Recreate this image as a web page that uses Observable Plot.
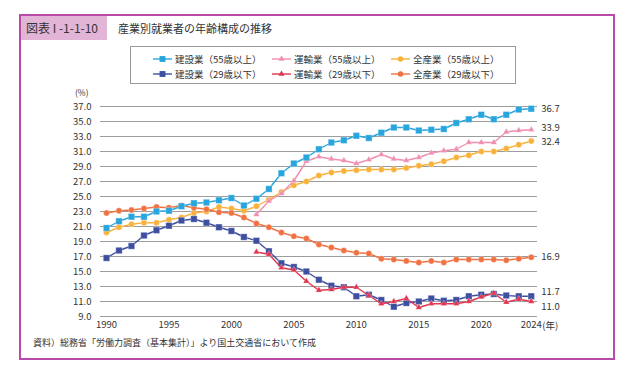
<!DOCTYPE html>
<html><head><meta charset="utf-8">
<script src="https://cdn.jsdelivr.net/npm/d3@7"></script>
<script src="https://cdn.jsdelivr.net/npm/@observablehq/plot@0.6"></script>
<style>
body{margin:0;background:#fff;font-family:"Noto Sans CJK JP","Noto Sans",sans-serif;color:#333;}
#wrap{position:relative;width:640px;height:378px;overflow:hidden;}
#frame{position:absolute;left:19px;top:14px;width:592px;height:342px;border:2px solid #b94aaa;}
#tag{position:absolute;left:21px;top:16px;width:86px;height:24px;background:#e2b4d6;font-size:12px;line-height:24px;padding-left:5px;box-sizing:border-box;}
#title{position:absolute;left:118px;top:16px;height:24px;line-height:24px;font-size:11px;}
#legend{position:absolute;left:130px;top:46px;width:386px;height:38px;border:1px solid #999;box-sizing:border-box;background:#fff;}
.li{position:absolute;font-size:9.5px;line-height:12px;white-space:nowrap;display:flex;align-items:center;}
.li svg{margin-right:3px;}
#pct{position:absolute;left:75px;top:87px;font-size:8.5px;line-height:10px;}
#cap{position:absolute;left:33px;top:337px;font-size:9px;line-height:12px;}
#chart{position:absolute;left:0;top:0;}
</style></head>
<body>
<div id="wrap">
  <div id="frame"></div>
  <div id="tag">図表 I -1-1-10</div>
  <div id="title">産業別就業者の年齢構成の推移</div>
  <div id="chart"></div>
  <div id="legend"></div>
  <div id="pct">(%)</div>
  <div id="cap">資料）総務省「労働力調査（基本集計）」より国土交通省において作成</div>
</div>
<script>
// ---- data ----
const yearsFull = [1990,1991,1992,1993,1994,1995,1996,1997,1998,1999,2000,2001,2002,2003,2004,2005,2006,2007,2008,2009,2010,2011,2012,2013,2014,2015,2016,2017,2018,2019,2020,2021,2022,2023,2024];
const yearsTransport = [2002,2003,2004,2005,2006,2007,2008,2009,2010,2011,2012,2013,2014,2015,2016,2017,2018,2019,2020,2021,2022,2023,2024];

const construction55 = [20.8,21.7,22.3,22.3,23.0,23.1,23.7,24.1,24.2,24.5,24.8,23.8,24.7,26.0,28.1,29.4,30.2,31.3,32.2,32.5,33.1,32.8,33.5,34.2,34.2,33.8,33.9,34.0,34.8,35.3,35.9,35.3,35.9,36.6,36.7];
const construction29 = [16.8,17.8,18.4,19.8,20.5,21.1,21.8,22.0,21.5,20.9,20.4,19.6,19.1,17.7,16.1,15.6,15.0,13.9,13.1,12.9,11.7,11.9,11.2,10.3,10.8,11.0,11.4,11.1,11.2,11.7,11.9,12.0,11.8,11.7,11.7];
const transport55 = [22.6,24.4,25.4,27.1,29.7,30.3,30.0,29.8,29.4,29.9,30.6,30.0,29.8,30.2,30.8,31.1,31.3,32.2,32.2,32.2,33.6,33.8,33.9];
const transport29 = [17.6,17.3,15.5,15.2,13.7,12.5,12.6,12.9,12.9,11.8,10.7,11.0,11.4,10.2,10.7,10.7,10.7,11.0,11.6,12.1,10.9,11.3,11.0];
const allIndustry55 = [20.2,20.9,21.3,21.5,21.5,21.9,22.2,22.8,23.0,23.6,23.4,23.1,23.7,24.6,25.6,26.5,27.0,27.8,28.2,28.4,28.5,28.6,28.6,28.6,28.8,29.1,29.3,29.7,30.2,30.5,31.0,31.0,31.4,31.9,32.4];
const allIndustry29 = [22.8,23.1,23.2,23.4,23.6,23.5,23.8,23.5,23.3,22.9,22.8,22.2,21.4,20.9,20.2,19.7,19.4,18.6,18.2,17.8,17.5,17.4,16.7,16.6,16.4,16.2,16.4,16.2,16.6,16.6,16.6,16.6,16.5,16.7,16.9];

const seriesNames = ["建設業（55歳以上）","運輸業（55歳以上）","全産業（55歳以上）","建設業（29歳以下）","運輸業（29歳以下）","全産業（29歳以下）"];
const endLabels = ["36.7","33.9","32.4","11.7","11.0","16.9"];
const yTicks = [9,11,13,15,17,19,21,23,25,27,29,31,33,35,37];
const xTicks = [1990,1995,2000,2005,2010,2015,2020,2024];

// ---- styles ----
const styles = [
  {color:"#29a5de", symbol:"square",   r:3.6},
  {color:"#f08db1", symbol:"triangle", r:2.4},
  {color:"#f8b23c", symbol:"circle",   r:3.0},
  {color:"#3e4fa0", symbol:"square",   r:3.6},
  {color:"#e0344f", symbol:"triangle", r:2.4},
  {color:"#f07141", symbol:"circle",   r:3.0}
];
const labelDy = [0,-2,1,-4,5,0];

const seriesData = [
  [yearsFull, construction55],
  [yearsTransport, transport55],
  [yearsFull, allIndustry55],
  [yearsFull, construction29],
  [yearsTransport, transport29],
  [yearsFull, allIndustry29]
];

const rows = seriesData.map(([ys, vs], i) => ys.map((y, j) => ({year: y, value: vs[j], s: i})));

const drawOrder = [2,5,1,0,3,4];
const marks = [
  Plot.ruleY(yTicks, {stroke:"#9d9d9d", strokeWidth:1}),
  Plot.axisY({ticks:yTicks, tickSize:0, tickPadding:9, tickFormat:d3.format(".1f"), label:null, fontSize:9.5}),
  Plot.axisX({ticks:xTicks, tickSize:0, tickPadding:5, tickFormat:d=>String(d), label:null, fontSize:9.5}),
  Plot.text([2024], {x:d=>d, y:9, text:()=>"(年)", textAnchor:"start", dx:11, dy:9.5, fontSize:9.5, fill:"#333"})
];
for (const i of drawOrder) {
  const st = styles[i];
  marks.push(Plot.line(rows[i], {x:"year", y:"value", stroke:st.color, strokeWidth:1.4}));
  marks.push(Plot.dot(rows[i], {x:"year", y:"value", symbol:()=>st.symbol, r:st.r, fill:st.color, stroke:"#fff", strokeWidth:0.4, strokeOpacity:0.7}));
}
seriesData.forEach(([ys, vs], i) => {
  const last = {year: ys[ys.length-1], value: vs[vs.length-1], label: endLabels[i]};
  marks.push(Plot.text([last], {x:"year", y:"value", text:"label", textAnchor:"start", dx:10, dy:labelDy[i], fontSize:9.5, fill:"#333"}));
});

const chart = Plot.plot({
  width:640, height:378,
  marginLeft:100, marginRight:103, marginTop:106, marginBottom:62,
  style:{background:"transparent", fontFamily:"'Noto Sans CJK JP','Noto Sans',sans-serif", color:"#333", fontSize:"9.5px"},
  x:{domain:[1989.52, 2024.5]},
  y:{domain:[9, 37]},
  symbol:{type:"identity"},
  marks
});
document.getElementById("chart").appendChild(chart);

// ---- legend ----
const legend = document.getElementById("legend");
const legPos = [[22,6],[141,6],[260,6],[22,21],[141,21],[260,21]];
seriesNames.forEach((name, i) => {
  const st = styles[i];
  const div = document.createElement("div");
  div.className = "li";
  div.style.left = legPos[i][0] + "px";
  div.style.top = legPos[i][1] + "px";
  const sym = d3.symbol(st.symbol === "square" ? d3.symbolSquare : st.symbol === "triangle" ? d3.symbolTriangle : d3.symbolCircle, Math.PI*st.r*st.r*0.85)();
  div.innerHTML = `<svg width="19" height="10"><line x1="0" x2="19" y1="5" y2="5" stroke="${st.color}" stroke-width="1.4"/><path d="${sym}" transform="translate(9.5,5)" fill="${st.color}"/></svg><span>${name}</span>`;
  legend.appendChild(div);
});
</script>
</body></html>
